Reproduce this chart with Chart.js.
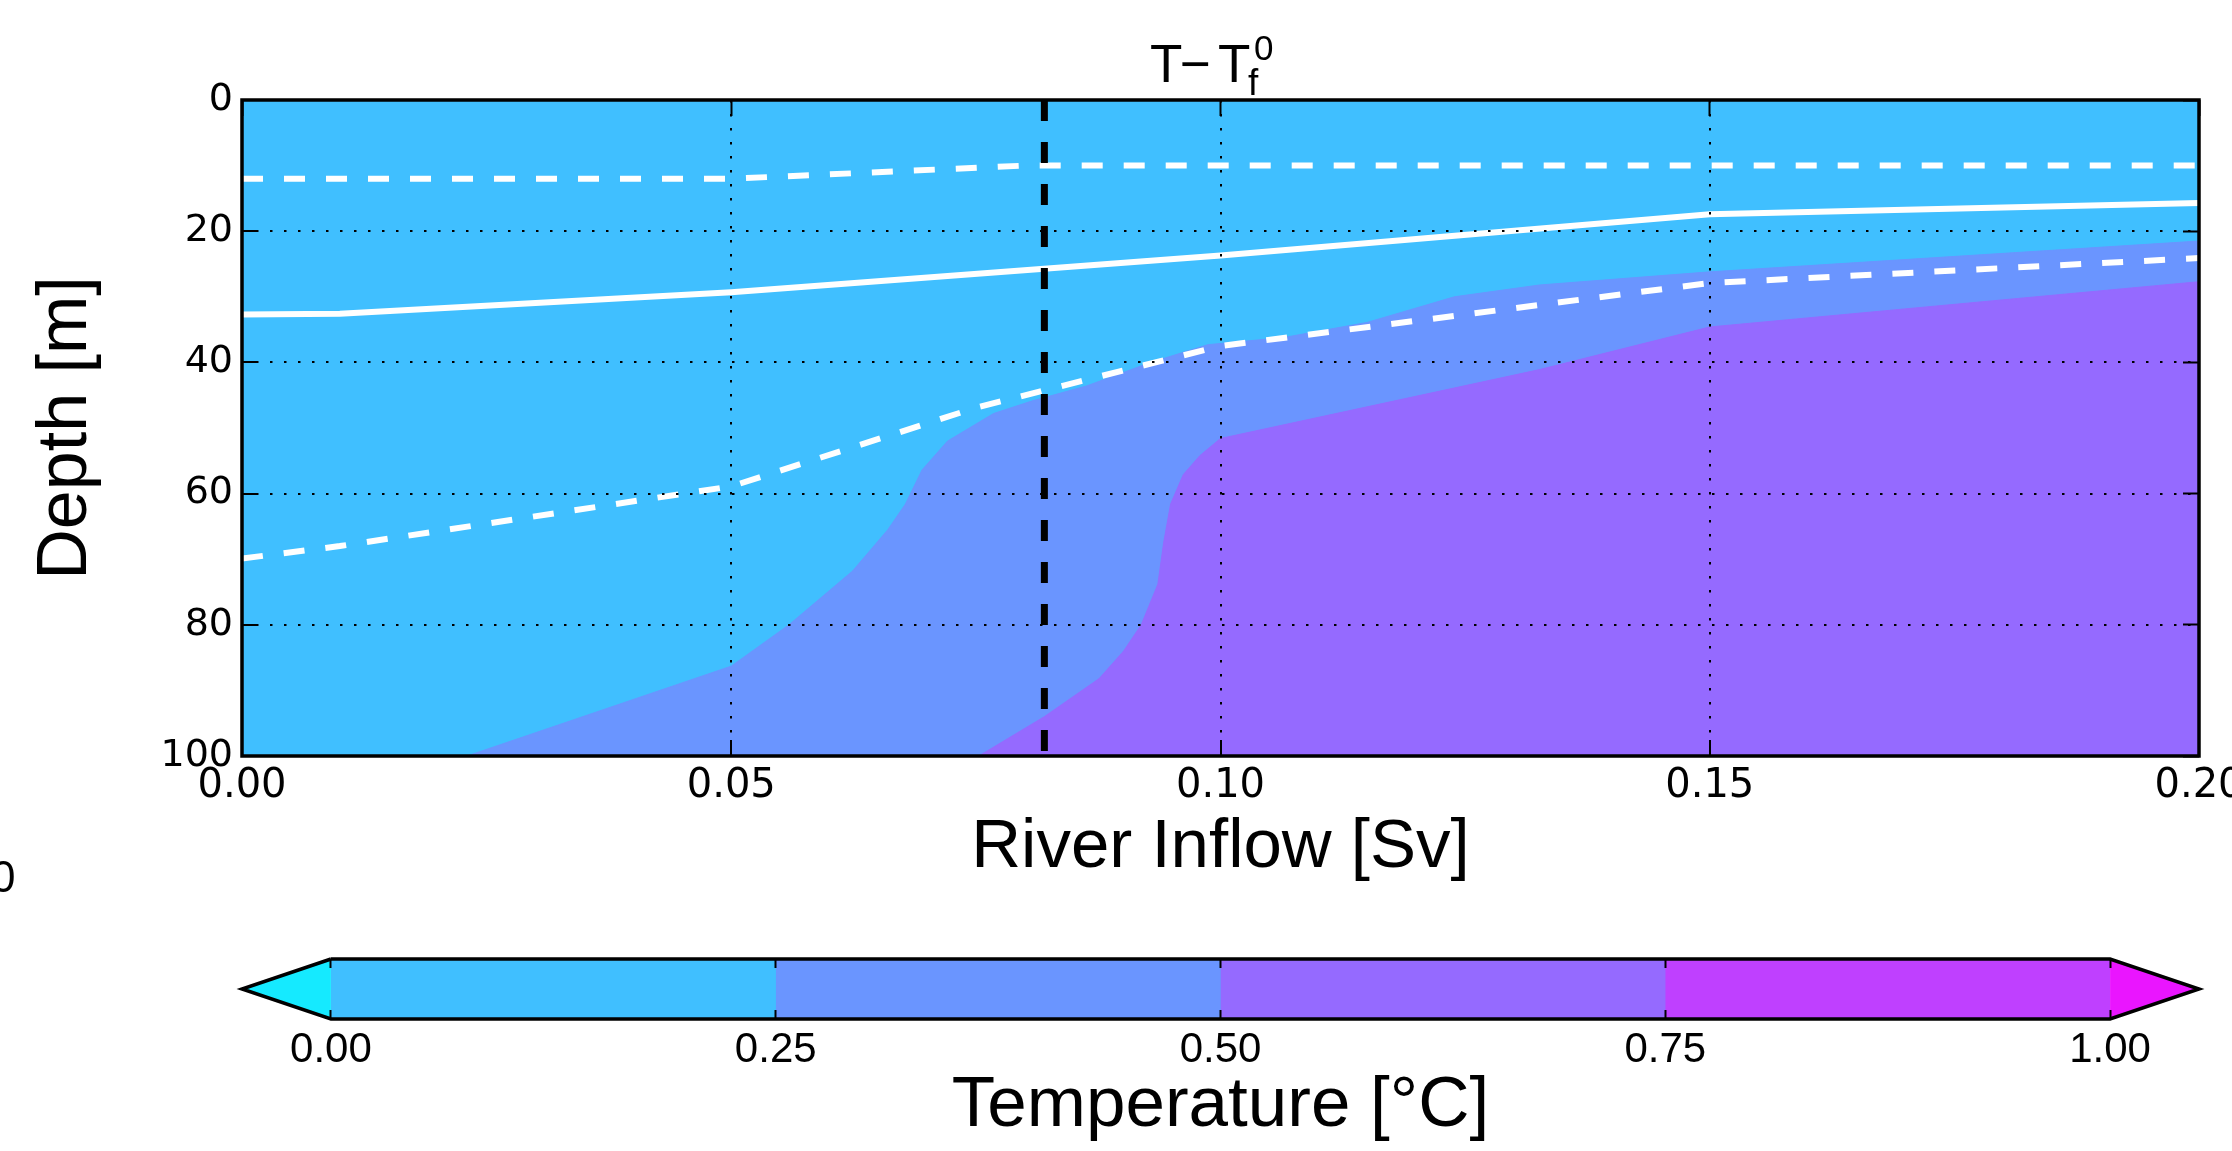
<!DOCTYPE html>
<html>
<head>
<meta charset="utf-8">
<title>T - Tf0</title>
<script src="https://cdn.jsdelivr.net/npm/chart.js@4.4.1/dist/chart.umd.min.js"></script>
<style>
	html, body { margin: 0; padding: 0; background: #fff; overflow: hidden; width: 2232px; height: 1151px; }
	#mainChart { position: absolute; left: 0; top: 0; }
	#barChart { position: absolute; left: 0; top: 900px; }
</style>
</head>
<body>
<canvas id="mainChart" width="2300" height="900"></canvas>
<canvas id="barChart" width="2300" height="251"></canvas>
<script>
// axes
const inflowTicks = [0, 0.05, 0.10, 0.15, 0.20];
const depthTicks = [0, 20, 40, 60, 80, 100];
const tempLevels = [0, 0.25, 0.50, 0.75, 1.00];

// white lines (depth in m vs river inflow in Sv)
const solidInflow = [0, 0.01, 0.05, 0.10, 0.15, 0.20];
const solidDepth = [32.7, 32.6, 29.3, 23.7, 17.4, 15.7];
const upperInflow = [0, 0.01, 0.05, 0.08, 0.10, 0.15, 0.20];
const upperDepth = [12.0, 12.0, 12.0, 10.0, 10.0, 10.0, 10.0];
const lowerInflow = [0, 0.01, 0.05, 0.075, 0.10, 0.15, 0.20];
const lowerDepth = [69.9, 68.0, 58.9, 46.9, 37.5, 27.9, 24.1];

// vertical dashed marker
const markerInflow = 0.082;

// contour edges : 0.25 and 0.50 degC
const edge25Inflow = [0.0230, 0.050, 0.0559, 0.0624, 0.0660, 0.0678, 0.0695, 0.0721, 0.0768, 0.0807, 0.0863, 0.0927, 0.0987, 0.1065, 0.115, 0.1239, 0.1326, 0.15, 0.20];
const edge25Depth = [100, 86.3, 80.0, 71.8, 65.5, 61.6, 56.4, 52.0, 47.8, 45.9, 43.6, 40.1, 37.3, 36.2, 33.9, 30.0, 28.2, 26.2, 21.5];
const edge50Inflow = [0.0753, 0.082, 0.0876, 0.0901, 0.0919, 0.0936, 0.0942, 0.0949, 0.0962, 0.0979, 0.10, 0.1326, 0.15, 0.20];
const edge50Depth = [100, 94.0, 88.2, 84.0, 80.0, 73.8, 67.4, 61.6, 57.1, 54.2, 51.6, 41.1, 34.6, 27.7];

// colours of the levels (cool colormap)
const bandColors = ['#40BFFF', '#6A95FF', '#956AFF', '#BF40FF'];
const underColor = '#15EAFF';
const overColor = '#EA15FF';
const extendFrac = 0.05;

const sans = "'Liberation Sans', Arial, sans-serif";
const dejavu = "'DejaVu Sans', sans-serif";

function toPoints(xs, ys)
{
	return xs.map((x, i) => ({x: x, y: ys[i]}));
}

function tickList(values)
{
	return function(scale) { scale.ticks = values.map(v => ({value: v})); };
}

// matplotlib look : frame + title with sub/superscript
const framePlugin = {
	id: 'framePlugin',
	afterDraw(chart) {
		const ctx = chart.ctx;
		const a = chart.chartArea;
		ctx.save();
		ctx.setLineDash([]);
		ctx.strokeStyle = '#000';
		ctx.lineWidth = 3.5;
		ctx.strokeRect(a.left, a.top, a.right - a.left, a.bottom - a.top);

		ctx.fillStyle = '#000';
		ctx.textAlign = 'left';
		ctx.textBaseline = 'alphabetic';
		ctx.font = '53px ' + sans;
		ctx.fillText('T', 1150, 82);
		ctx.fillText('\u2212', 1180, 82);
		ctx.fillText('T', 1218, 82);
		ctx.font = '37px ' + sans;
		ctx.fillText('f', 1248, 95);
		ctx.font = '35px ' + sans;
		ctx.fillText('0', 1254, 60);

		// label of a neighbour panel, cut by the page edge
		ctx.font = '44px ' + sans;
		ctx.fillText('0', -9, 892);
		ctx.restore();
	}
};

function lineSet(xs, ys, color, width, dash, order)
{
	return {
		data: toPoints(xs, ys),
		showLine: true,
		borderColor: color,
		borderWidth: width,
		borderDash: dash,
		pointRadius: 0,
		fill: false,
		tension: 0,
		order: order
	};
}

function fillSet(points, color, target, order)
{
	return {
		data: points,
		showLine: true,
		borderColor: color,
		borderWidth: 1,
		backgroundColor: color,
		pointRadius: 0,
		fill: target,
		tension: 0,
		order: order
	};
}

function drawMainChart()
{
	const xMin = inflowTicks[0], xMax = inflowTicks[inflowTicks.length - 1];
	const yMin = depthTicks[0], yMax = depthTicks[depthTicks.length - 1];
	const dots = [2.5, 11.5];
	const gridOpts = {
		z: 1, color: '#000', lineWidth: 2, borderDash: dots,
		tickLength: -16, tickWidth: 2, tickColor: '#000', tickBorderDash: []
	};
	const edgeGrid = {
		z: 1, drawOnChartArea: false, tickLength: -16, tickWidth: 2, tickColor: '#000', tickBorderDash: []
	};

	new Chart(document.getElementById('mainChart'), {
		type: 'scatter',
		data: {
			datasets: [
				fillSet(toPoints([xMin, xMax], [yMin, yMin]), bandColors[0], {value: yMax}, 10),
				fillSet(toPoints(edge25Inflow, edge25Depth), bandColors[1], {value: yMax}, 9),
				fillSet(toPoints(edge50Inflow, edge50Depth), bandColors[2], {value: yMax}, 8),
				lineSet(upperInflow, upperDepth, '#fff', 6, [21, 21], 3),
				lineSet(solidInflow, solidDepth, '#fff', 6, [], 2),
				lineSet(lowerInflow, lowerDepth, '#fff', 6, [21, 21], 3),
				lineSet([markerInflow, markerInflow], [yMin, yMax], '#000', 7, [21, 21], 1)
			]
		},
		options: {
			responsive: false,
			animation: false,
			layout: { padding: { left: 0, right: 101, top: 100, bottom: 0 } },
			plugins: { legend: { display: false }, tooltip: { enabled: false }, title: { display: false } },
			scales: {
				x: {
					type: 'linear', position: 'bottom', min: xMin, max: xMax,
					afterBuildTicks: tickList(inflowTicks),
					afterFit: s => { s.height = 144; },
					grid: gridOpts,
					border: { display: false, dash: dots },
					ticks: {
						color: '#000', font: { family: dejavu, size: 40 }, padding: 23,
						maxRotation: 0, autoSkip: false, callback: v => v.toFixed(2)
					},
					title: {
						display: true, text: 'River Inflow [Sv]', color: '#000',
						font: { family: sans, size: 69 }, padding: { top: 0, bottom: 11 }
					}
				},
				x2: {
					type: 'linear', position: 'top', min: xMin, max: xMax,
					afterBuildTicks: tickList(inflowTicks),
					afterFit: s => { s.height = 0; },
					grid: edgeGrid,
					border: { display: false },
					ticks: { display: false }
				},
				y: {
					type: 'linear', position: 'left', min: yMin, max: yMax, reverse: true,
					afterBuildTicks: tickList(depthTicks),
					afterFit: s => { s.width = 242; },
					grid: gridOpts,
					border: { display: false, dash: dots },
					ticks: { color: '#000', font: { family: dejavu, size: 38 }, padding: 25 },
					title: {
						display: true, text: 'Depth [m]', color: '#000',
						font: { family: sans, size: 70 }, padding: { top: 25, bottom: 0 }
					}
				},
				y2: {
					type: 'linear', position: 'right', min: yMin, max: yMax, reverse: true,
					afterBuildTicks: tickList(depthTicks),
					afterFit: s => { s.width = 0; },
					grid: edgeGrid,
					border: { display: false },
					ticks: { display: false }
				}
			}
		},
		plugins: [framePlugin]
	});
}

function drawColorbar()
{
	const lo = tempLevels[0], hi = tempLevels[tempLevels.length - 1];
	const ext = extendFrac * (hi - lo);
	const datasets = [];
	const n = tempLevels.length - 1;

	// each band runs to the top level, the next one covers it (no seams)
	for (let i = 0; i < n; i++)
		datasets.push(fillSet(toPoints([tempLevels[i], hi], [1, 1]), bandColors[i], {value: -1}, 10 + n - i));

	// triangles for values out of range
	datasets.push(fillSet(toPoints([lo - ext, lo], [0, 1]), underColor, {value: 0}, 5));
	datasets.push(fillSet(toPoints([lo - ext, lo], [0, -1]), underColor, {value: 0}, 5));
	datasets.push(fillSet(toPoints([hi, hi + ext], [1, 0]), overColor, {value: 0}, 5));
	datasets.push(fillSet(toPoints([hi, hi + ext], [-1, 0]), overColor, {value: 0}, 5));

	// outline
	const outline = lineSet([lo, hi, hi + ext, hi, lo, lo - ext, lo], [1, 1, 0, -1, -1, 0, 1], '#000', 3.5, [], 1);
	outline.clip = false;
	outline.borderJoinStyle = 'miter';
	datasets.push(outline);

	const cbGrid = {
		z: 1, drawOnChartArea: false, tickLength: -9, tickWidth: 2, tickColor: '#000', tickBorderDash: []
	};

	new Chart(document.getElementById('barChart'), {
		type: 'scatter',
		data: { datasets: datasets },
		options: {
			responsive: false,
			animation: false,
			layout: { padding: { left: 242, right: 101, top: 59, bottom: 0 } },
			plugins: { legend: { display: false }, tooltip: { enabled: false } },
			scales: {
				x: {
					type: 'linear', position: 'bottom', min: lo - ext, max: hi + ext,
					afterBuildTicks: tickList(tempLevels),
					afterFit: s => { s.height = 132; },
					grid: cbGrid,
					border: { display: false },
					ticks: {
						color: '#000', font: { family: sans, size: 42 }, padding: 15,
						maxRotation: 0, autoSkip: false, callback: v => v.toFixed(2)
					},
					title: {
						display: true, text: 'Temperature [\u00B0C]', color: '#000',
						font: { family: sans, size: 71 }, padding: { top: 0, bottom: 2 }
					}
				},
				x2: {
					type: 'linear', position: 'top', min: lo - ext, max: hi + ext,
					afterBuildTicks: tickList(tempLevels),
					afterFit: s => { s.height = 0; },
					grid: cbGrid,
					border: { display: false },
					ticks: { display: false }
				},
				y: { type: 'linear', min: -1, max: 1, display: false }
			}
		}
	});
}

drawMainChart();
drawColorbar();
</script>
</body>
</html>
